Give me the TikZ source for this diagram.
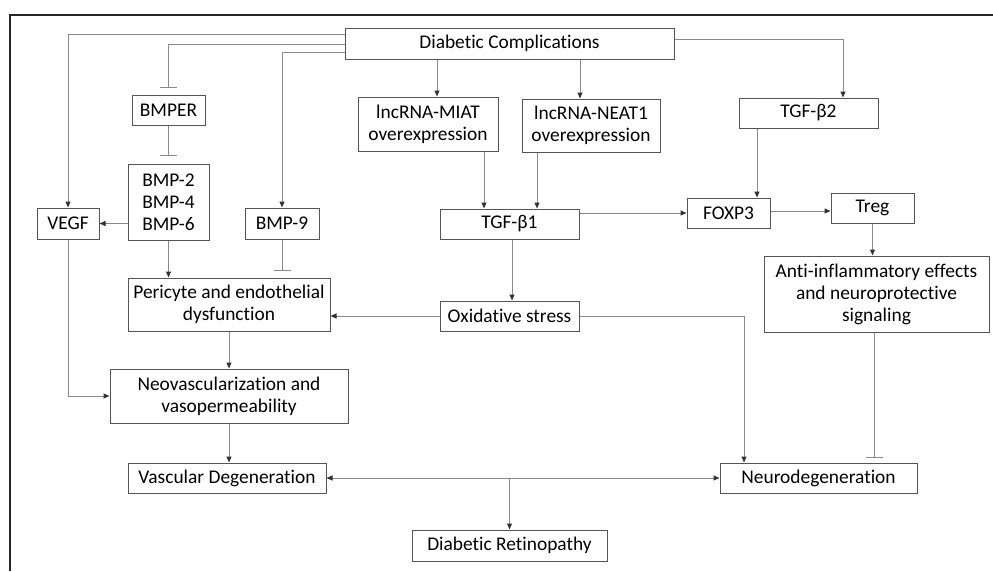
\documentclass[tikz,border=0pt]{standalone}
\usepackage{fontspec}
\setmainfont{Carlito}[Ligatures={NoCommon,NoRequired,NoContextual}]
\usetikzlibrary{arrows.meta}
\definecolor{boxc}{HTML}{555555}
\definecolor{linec}{HTML}{8A8A8A}
\definecolor{tipc}{HTML}{333333}
\begin{document}
\begin{tikzpicture}[x=1pt,y=-1pt,
 box/.style={draw=boxc, line width=1pt, align=center, inner sep=0pt, font=\fontsize{19.4}{22}\selectfont, text=black},
 con/.style={draw=linec, line width=1pt},
 arr/.style={con, -{Triangle[length=6pt,width=5pt,color=tipc]}},
 arrtwo/.style={con, {Triangle[length=6pt,width=5pt,color=tipc]}-{Triangle[length=6pt,width=5pt,color=tipc]}},
 inh/.style={con, -{Bar[width=17pt,line width=1pt]}},
]
\useasboundingbox (0,0) rectangle (993,571);
\draw[line width=2pt, black!85] (10,571) -- (10,15) -- (993,15);

\node[box, minimum width=329pt, minimum height=31pt] (dc) at (509.5,43.5) {Diabetic Complications};
\node[box, minimum width=73pt, minimum height=30pt] (bmper) at (168.5,110) {BMPER};
\node[box, minimum width=140pt, minimum height=54pt] (miat) at (428,124) {lncRNA-MIAT\\overexpression};
\node[box, minimum width=138pt, minimum height=53pt] (neat) at (591,125.5) {lncRNA-NEAT1\\overexpression};
\node[box, minimum width=139pt, minimum height=30pt] (tgfb2) at (808.5,113) {TGF-β2};
\node[box, minimum width=81pt, minimum height=76pt] (bmp) at (168.5,202) {BMP-2\\BMP-4\\BMP-6};
\node[box, minimum width=62pt, minimum height=31pt] (vegf) at (68,223.5) {VEGF};
\node[box, minimum width=74pt, minimum height=31pt] (bmp9) at (282,223.5) {BMP-9};
\node[box, minimum width=139pt, minimum height=30pt] (tgfb1) at (509.5,224) {TGF-β1};
\node[box, minimum width=83pt, minimum height=30pt] (foxp3) at (728.5,213) {FOXP3};
\node[box, minimum width=83pt, minimum height=30pt] (treg) at (872.5,208) {Treg};
\node[box, minimum width=225pt, minimum height=76pt] (anti) at (876.5,294) {Anti-inflammatory effects\\and neuroprotective\\signaling};
\node[box, minimum width=202pt, minimum height=53pt] (peri) at (229,304.5) {Pericyte and endothelial\\dysfunction};
\node[box, minimum width=139pt, minimum height=30pt] (oxi) at (509.5,316) {Oxidative stress};
\node[box, minimum width=238pt, minimum height=54pt] (neo) at (229,396) {Neovascularization and\\vasopermeability};
\node[box, minimum width=198pt, minimum height=30pt] (vasc) at (227,478) {Vascular Degeneration};
\node[box, minimum width=197pt, minimum height=30pt] (neuro) at (818.5,478) {Neurodegeneration};
\node[box, minimum width=195pt, minimum height=31pt] (dr) at (509.5,545.5) {Diabetic Retinopathy};

\draw[arr] ([yshift=9.5pt]dc.west) -| (vegf.north);
\coordinate (bmperbar) at ([yshift=7pt]bmper.north);
\draw[inh] ([yshift=-0.5pt]dc.west) -| (bmperbar);
\draw[arr] ([yshift=-8.5pt]dc.west) -| (bmp9.north);
\coordinate (miatin) at ([xshift=9pt]miat.north);
\draw[arr] (dc.south -| miatin) -- (miatin);
\coordinate (neatin) at ([xshift=-11pt]neat.north);
\draw[arr] (dc.south -| neatin) -- (neatin);
\coordinate (tgfbtwoin) at ([xshift=34.5pt]tgfb2.north);
\draw[arr] ([yshift=4.5pt]dc.east) -| (tgfbtwoin);
\coordinate (bmpbar) at ([yshift=8pt]bmp.north);
\draw[inh] (bmper.south) -- (bmpbar);
\draw[arr] (bmp.west |- vegf.east) -- (vegf.east);
\draw[arr] (bmp.south) -- (bmp.south |- peri.north);
\coordinate (peribar) at ([yshift=7pt]peri.north);
\draw[inh] (bmp9.south) -- (bmp9.south |- peribar);
\coordinate (miatout) at ([xshift=56pt]miat.south);
\draw[arr] (miatout) -- (miatout |- tgfb1.north);
\coordinate (neatout) at ([xshift=-54pt]neat.south);
\draw[arr] (neatout) -- (neatout |- tgfb1.north);
\draw[arr] (tgfb1.east |- foxp3.west) -- (foxp3.west);
\coordinate (tgfbtwoout) at ([xshift=-51.5pt]tgfb2.south);
\draw[arr] (tgfbtwoout) -- (tgfbtwoout |- foxp3.north);
\draw[arr] ([yshift=2pt]foxp3.east) -- ([yshift=2pt]foxp3.east -| treg.west);
\draw[arr] (treg.south) -- (treg.south |- anti.north);
\draw[arr] ([xshift=2.5pt]tgfb1.south) -- ([xshift=2.5pt]tgfb1.south |- oxi.north);
\draw[arr] (oxi.west) -- (oxi.west -| peri.east);
\coordinate (neuroin) at ([xshift=-74.5pt]neuro.north);
\draw[arr] (oxi.east) -| (neuroin);
\coordinate (neurobar) at ([xshift=55.5pt,yshift=5pt]neuro.north);
\draw[inh] (anti.south -| neurobar) -- (neurobar);
\draw[arr] (peri.south) -- (neo.north);
\draw[arr] (vegf.south) |- (neo.west);
\draw[arr] (neo.south) -- (neo.south |- vasc.north);
\draw[arrtwo] (vasc.east) -- (neuro.west);
\coordinate (junc) at (dr.north |- vasc.east);
\draw[arr] (junc) -- (dr.north);
\end{tikzpicture}
\end{document}
